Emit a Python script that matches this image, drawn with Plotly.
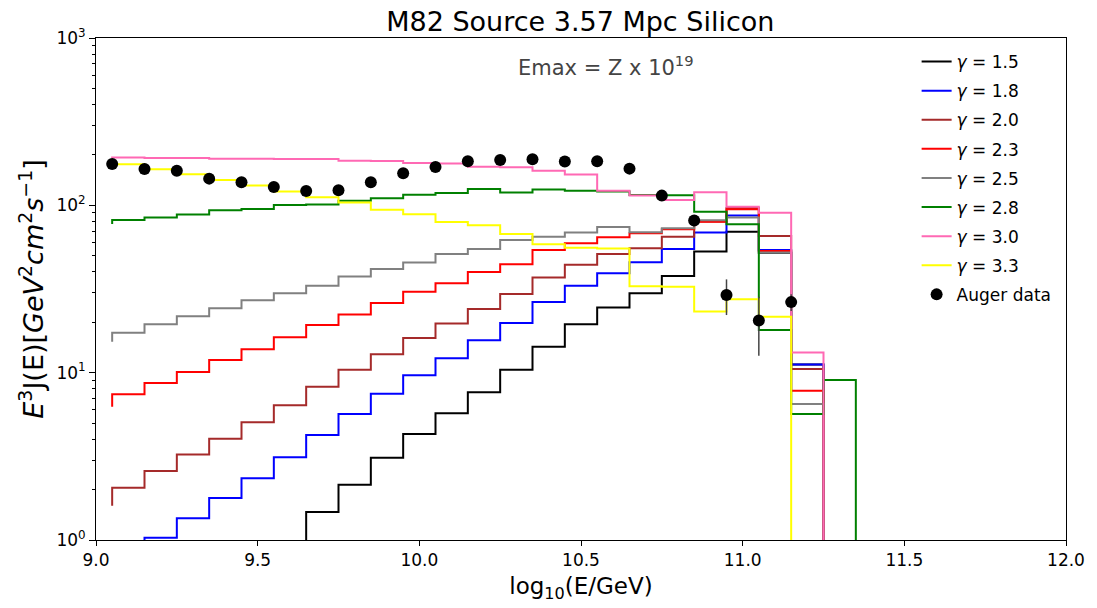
import numpy as np
import plotly.graph_objects as go

# bin edges in log10(E/GeV) (steps drawn "pre" style)
log_e = [9.05, 9.15, 9.25, 9.35, 9.45, 9.55, 9.65, 9.75, 9.85, 9.95,
         10.05, 10.15, 10.25, 10.35, 10.45, 10.55, 10.65, 10.75, 10.85, 10.95,
         11.05, 11.15, 11.25, 11.35, 11.45]

gamma_labels = ["1.5", "1.8", "2.0", "2.3", "2.5", "2.8", "3.0", "3.3"]
colors = ["#000000", "#0000ff", "#a52a2a", "#ff0000", "#808080", "#008000", "#ff69b4", "#ffff00"]

flux_g15 = [0.10, 0.13, 0.20, 0.30, 0.45, 0.66, 0.97, 1.47, 2.14, 3.10, 4.30, 5.72, 7.64,
            10.4, 14.3, 19.5, 24.5, 29.8, 37.8, 52.9, 69.6, 52.0, 11.2, 0]
flux_g18 = [0.70, 0.79, 1.03, 1.35, 1.78, 2.34, 3.12, 4.24, 5.66, 7.49, 9.65, 12.2, 15.6,
            19.8, 26.4, 33.1, 39.3, 45.7, 54.9, 68.7, 86.8, 54.0, 11.2, 0]
flux_g20 = [1.60, 2.05, 2.58, 3.24, 4.03, 5.05, 6.38, 8.25, 10.4, 12.9, 16.1, 19.7, 24.0,
            29.5, 37.0, 44.2, 51.2, 55.4, 65.0, 80.0, 96.5, 65.6, 10.5, 0]
flux_g23 = [6.26, 7.43, 8.68, 10.1, 11.9, 13.8, 16.3, 19.3, 22.3, 26.1, 30.5, 34.2, 40.0,
            44.5, 54.1, 59.3, 64.5, 68.1, 72.0, 79.9, 94.8, 53.4, 7.8, 0]
flux_g25 = [15.3, 17.3, 19.5, 21.7, 24.3, 27.1, 29.8, 33.1, 37.5, 41.7, 45.5, 51.2, 54.9,
            62.1, 65.0, 68.7, 74.3, 69.0, 73.0, 81.5, 84.5, 52.2, 6.5, 0]
flux_g28 = [77.4, 81.8, 84.5, 88.1, 93.5, 95.2, 100.5, 101.0, 106.5, 110.2, 115.8, 118.6, 125.3,
            119.5, 124.3, 122.4, 121.0, 115.4, 115.0, 91.7, 77.1, 18.0, 5.67, 9.04, 0]
flux_g30 = [192.0, 193.0, 192.0, 192.0, 190.0, 190.0, 189.0, 189.0, 185.0, 184.0, 179.0, 178.0, 170.0,
            169.0, 161.0, 153.0, 122.4, 114.3, 107.7, 119.7, 98.1, 90.4, 13.2, 0]
flux_g33 = [176.0, 176.0, 164.4, 153.4, 141.9, 131.2, 120.8, 111.7, 104.0, 94.0, 88.5, 79.6, 76.0,
            67.4, 58.5, 55.7, 55.2, 32.8, 32.6, 23.2, 27.5, 21.6, 0]

series = [flux_g15, flux_g18, flux_g20, flux_g23, flux_g25, flux_g28, flux_g30, flux_g33]

auger_x = [9.05, 9.15, 9.25, 9.35, 9.45, 9.55, 9.65, 9.75, 9.85, 9.95, 10.05,
           10.15, 10.25, 10.35, 10.45, 10.55, 10.65, 10.75, 10.85, 10.95, 11.05, 11.15]
auger_y = [176.8, 165.0, 161.0, 144.4, 137.4, 128.8, 121.9, 123.1, 137.4, 155.5, 169.6,
           183.5, 186.5, 188.7, 183.0, 183.5, 165.7, 114.3, 81.1, 29.1, 20.5, 26.4]
auger_err = [4, 3, 3, 3, 3, 3, 3, 3, 3, 3, 4,
             4, 4, 4, 5, 5, 6, 6, 5, 7.0, 7.9, 3.0]

FLOOR = 1e-3  # zero flux drawn below the axis

fig = go.Figure()
for i, (lab, col, ys) in enumerate(zip(gamma_labels, colors, series)):
    y = np.array(ys, dtype=float)
    y = np.where(y > 0, y, FLOOR)
    fig.add_trace(go.Scatter(
        x=log_e[:len(y)], y=y, mode="lines",
        line=dict(color=col, width=2, shape="vh"),
        name="<i>γ</i> = " + lab, legendgroup="g%d" % i,
    ))

fig.add_trace(go.Scatter(
    x=auger_x, y=auger_y, mode="markers", name="Auger data", legendgroup="auger",
    marker=dict(color="black", size=12),
    error_y=dict(type="data", array=auger_err, color="#444444", thickness=1.5, width=0),
))

minor_vals = [m * 10 ** d for d in range(0, 3) for m in range(2, 10)]

fig.update_layout(
    width=1097, height=608,
    margin=dict(l=96, r=31, t=38, b=68),
    paper_bgcolor="white", plot_bgcolor="white",
    font=dict(family="DejaVu Sans", color="black"),
    title=dict(text="M82 Source 3.57 Mpc Silicon", x=0.529, xanchor="center",
               y=0.965, yanchor="middle", font=dict(size=27, color="black")),
    showlegend=True,
    legend=dict(x=0.846, xanchor="left", y=0.988, yanchor="top",
                bgcolor="rgba(0,0,0,0)", font=dict(size=17), borderwidth=0,
                traceorder="grouped", tracegroupgap=4),
    xaxis=dict(range=[9.0, 12.0], tickvals=[9.0, 9.5, 10.0, 10.5, 11.0, 11.5, 12.0],
               ticktext=["9.0", "9.5", "10.0", "10.5", "11.0", "11.5", "12.0"],
               ticks="outside", ticklen=5, tickwidth=1, tickcolor="black",
               showline=True, linecolor="black", linewidth=1, mirror=True,
               showgrid=False, zeroline=False, tickfont=dict(size=17),
               title=dict(text="log<sub>10</sub>(E/GeV)", font=dict(size=23), standoff=8)),
    yaxis=dict(type="log", range=[0, 3], tickvals=[1, 10, 100, 1000],
               ticktext=["10<sup>0</sup>", "10<sup>1</sup>", "10<sup>2</sup>", "10<sup>3</sup>"],
               ticks="outside", ticklen=6, tickwidth=1, tickcolor="black",
               minor=dict(tickvals=minor_vals, ticks="outside", ticklen=3, tickcolor="black", showgrid=False),
               showline=True, linecolor="black", linewidth=1, mirror=True,
               showgrid=False, zeroline=False, tickfont=dict(size=17),
               title=dict(text="<i>E</i><sup>3</sup>J(E)[<i>GeV</i><sup>2</sup><i>cm</i><sup>2</sup><i>s</i><sup>−1</sup>]",
                          font=dict(size=27), standoff=4)),
)

fig.add_annotation(x=10.30, y=2.83, xref="x", yref="y", text="Emax = Z x 10<sup>19</sup>",
                   showarrow=False, xanchor="left", yanchor="middle",
                   font=dict(size=21, color="#444444"))

fig.write_html("out.html")
